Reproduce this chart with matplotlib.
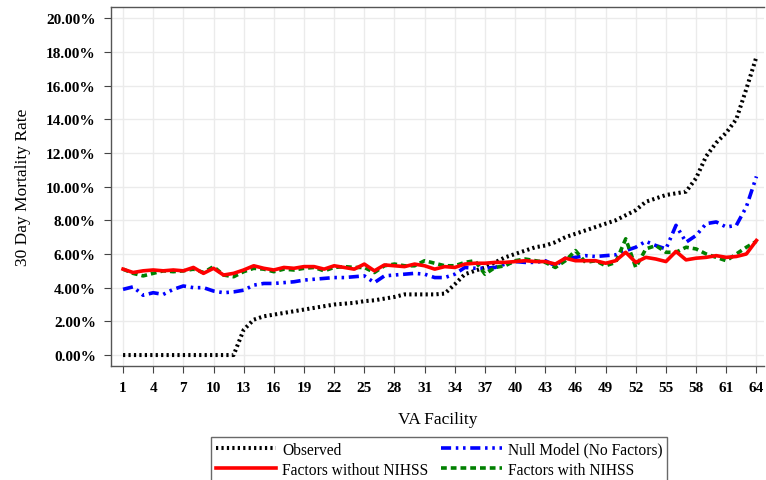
import matplotlib
matplotlib.use('Agg')
import matplotlib.pyplot as plt
from matplotlib.ticker import FuncFormatter

plt.rcParams['font.family'] = ['Liberation Serif', 'DejaVu Serif']

facility = list(range(1, 65))

observed = [0.0, 0.0, 0.0, 0.0, 0.0, 0.0, 0.0, 0.0, 0.0, 0.0, 0.0, 0.0,
            1.5, 2.1, 2.3, 2.4, 2.5, 2.6, 2.7, 2.8, 2.9, 3.0, 3.05, 3.1,
            3.2, 3.25, 3.35, 3.45, 3.6, 3.6, 3.6, 3.6, 3.65, 4.2, 4.8, 5.0,
            5.2, 5.5, 5.8, 6.0, 6.2, 6.4, 6.5, 6.7, 7.0, 7.2, 7.4, 7.6,
            7.8, 8.0, 8.3, 8.6, 9.1, 9.3, 9.5, 9.6, 9.7, 10.5, 11.8, 12.6,
            13.2, 14.0, 15.8, 17.7]

null_model = [3.9, 4.05, 3.55, 3.7, 3.6, 3.9, 4.1, 4.0, 4.0, 3.8, 3.7, 3.75,
              3.85, 4.15, 4.25, 4.25, 4.3, 4.35, 4.45, 4.5, 4.55, 4.6, 4.6, 4.65,
              4.7, 4.3, 4.7, 4.75, 4.8, 4.85, 4.8, 4.6, 4.6, 4.8, 5.2, 5.15,
              5.15, 5.2, 5.4, 5.55, 5.5, 5.5, 5.6, 5.3, 5.75, 5.8, 5.9, 5.85,
              5.9, 5.95, 6.2, 6.4, 6.75, 6.5, 6.3, 7.7, 6.7, 7.1, 7.8, 7.9,
              7.6, 7.7, 8.8, 10.6]

without_nihss = [5.1, 4.9, 5.0, 5.05, 5.0, 5.05, 5.0, 5.2, 4.85, 5.15, 4.75, 4.85,
                 5.05, 5.3, 5.15, 5.05, 5.2, 5.15, 5.25, 5.25, 5.1, 5.3, 5.2, 5.1,
                 5.4, 5.0, 5.35, 5.3, 5.25, 5.4, 5.3, 5.1, 5.25, 5.2, 5.4, 5.45,
                 5.45, 5.5, 5.5, 5.55, 5.6, 5.55, 5.55, 5.4, 5.75, 5.6, 5.6, 5.6,
                 5.45, 5.6, 6.1, 5.5, 5.8, 5.7, 5.55, 6.15, 5.65, 5.75, 5.8, 5.9,
                 5.8, 5.85, 6.0, 6.8]

with_nihss = [5.1, 4.85, 4.7, 4.85, 5.0, 4.95, 5.0, 5.1, 4.9, 5.25, 4.75, 4.65,
              4.95, 5.15, 5.1, 4.95, 5.1, 5.05, 5.15, 5.2, 5.0, 5.2, 5.25, 5.2,
              5.2, 4.9, 5.3, 5.4, 5.3, 5.3, 5.6, 5.45, 5.3, 5.3, 5.5, 5.6,
              4.8, 5.2, 5.3, 5.6, 5.7, 5.6, 5.5, 5.2, 5.6, 6.2, 5.5, 5.6,
              5.3, 5.5, 6.9, 5.2, 6.3, 6.5, 6.1, 6.1, 6.4, 6.3, 6.0, 5.8,
              5.6, 6.0, 6.4, 6.75]

y_ticks = [0, 2, 4, 6, 8, 10, 12, 14, 16, 18, 20]
x_ticks = list(range(1, 65, 3))

fig = plt.figure(figsize=(7.66, 4.81), dpi=100)
ax = fig.add_axes([0.145, 0.237, 0.853, 0.746])

l_obs, = ax.plot(facility, observed, color='black', lw=2.9,
                 linestyle=(0, (0.55, 0.8)), dash_capstyle='butt', label='Observed')
l_null, = ax.plot(facility, null_model, color='#0000ff', lw=2.6,
                  linestyle=(0, (2.8, 1.3, 0.7, 1.3, 0.7, 1.3)), dash_capstyle='butt',
                  label='Null Model (No Factors)')
l_with, = ax.plot(facility, with_nihss, color='#008000', lw=2.6,
                  linestyle=(0, (1.6, 1.1)), dash_capstyle='butt', label='Factors with NIHSS')
l_wo, = ax.plot(facility, without_nihss, color='#ff0000', lw=2.6,
                label='Factors without NIHSS')

ax.set_xlim(-0.19, 64.8)
ax.set_ylim(-0.65, 20.65)
ax.set_xticks(x_ticks)
ax.set_yticks(y_ticks)
ax.yaxis.set_major_formatter(FuncFormatter(lambda v, p: f'{v:.2f}%'))
ax.grid(True, color='#ebebeb', lw=1)
ax.set_axisbelow(True)

for lab in ax.get_xticklabels() + ax.get_yticklabels():
    lab.set_fontweight('bold')
    lab.set_fontsize(11)
ax.tick_params(axis='both', direction='out', length=5, width=0.8, color='#444444', pad=6)

for s in ['left', 'bottom', 'top']:
    ax.spines[s].set_color('#555555')
    ax.spines[s].set_linewidth(1)
ax.spines['right'].set_visible(False)

ax.set_ylabel('30 Day Mortality Rate', fontsize=12.5, labelpad=11)
ax.set_xlabel('VA Facility', fontsize=12.5, labelpad=12)

leg = ax.legend(handles=[l_obs, l_wo, l_null, l_with], ncol=2, loc='upper center',
                bbox_to_anchor=(0.502, -0.198), borderaxespad=0, fontsize=11.2,
                frameon=True, fancybox=False, handlelength=3.9, columnspacing=0.8,
                handletextpad=0.4, borderpad=0.3, labelspacing=0.25)
leg.get_frame().set_edgecolor('#444444')
leg.get_frame().set_linewidth(1)

fig.savefig('out.png', dpi=100, facecolor='white')
